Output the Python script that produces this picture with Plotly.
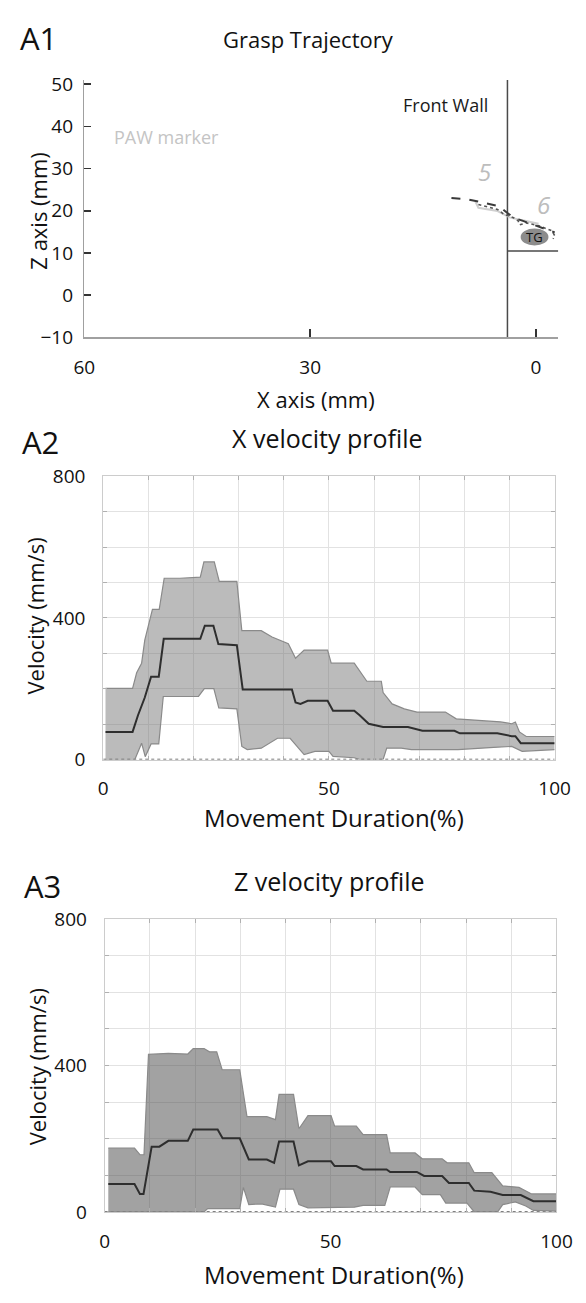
import plotly.graph_objects as go

# ---------------- data ----------------
# A1 grasp trajectory (x mm, z mm)
traj_a_x = [11.24, 8.92, 6.81, 4.90, 3.85, 3.00, 1.74, 0.47, -1.22, -2.48]
traj_a_z = [23.02, 22.65, 21.86, 21.09, 19.53, 18.37, 17.60, 16.84, 15.67, 14.88]
traj_b_x = [7.66, 5.12, 4.27, 3.00, 2.37, 2.17, 1.32, -0.37, -2.07, -2.48, -2.27]
traj_b_z = [21.49, 20.33, 19.16, 18.37, 17.60, 16.67, 17.14, 16.44, 15.28, 14.12, 13.35]
traj_c_x = [8.07, 7.66, 5.12, 3.43, 1.32, -0.33]
traj_c_z = [22.26, 20.70, 19.93, 18.37, 17.60, 16.91]
front_wall_x = 3.8
floor_z = 10.5
target_center = [0.2, 13.8]
target_size = [3.7, 4.0]
a1_xticks = [60, 30, 0]
a1_yticks = [-10, 0, 10, 20, 30, 40, 50]

# A2 X velocity profile
a2_mean_x = [0.5, 6.5, 7.7, 9.2, 10.6, 12.3, 13.4, 21.5, 22.5, 24.4, 25.5, 29.6, 30.9, 41.8, 42.6, 43.7,
             45.3, 49.7, 50.9, 55.6, 56.8, 58.8, 62.0, 67.5, 70.7, 77.8, 79.0, 87.3, 90.5, 91.3, 92.5, 100]
a2_mean = [78, 78, 125, 175, 234, 234, 341, 341, 378, 378, 326, 323, 198, 198, 161, 157,
           166, 166, 138, 138, 125, 101, 92, 92, 81, 81, 74, 74, 66, 66, 46, 46]
a2_up_x = [0.5, 6.5, 7.4, 8.5, 9.2, 10.9, 12.4, 13.5, 17.0, 21.5, 22.3, 24.6, 25.7, 29.6, 30.7, 35.0,
           37.4, 41.0, 42.6, 44.5, 49.7, 50.5, 55.6, 58.4, 61.6, 62.0, 64.0, 66.7, 69.5, 75.8, 78.2,
           83.4, 88.0, 90.5, 91.3, 92.2, 93.7, 100]
a2_up = [201, 201, 245, 272, 337, 424, 424, 512, 512, 515, 558, 558, 503, 503, 364, 364,
         346, 327, 286, 309, 309, 272, 272, 221, 221, 189, 157, 143, 134, 134, 115,
         111, 106, 101, 106, 78, 65, 65]
a2_lo_x = [0.5, 7.0, 8.5, 9.3, 10.6, 12.3, 13.3, 21.1, 22.4, 24.5, 25.6, 29.6, 30.7, 31.9, 35.0, 38.6,
           41.4, 44.5, 46.9, 50.0, 50.9, 55.6, 56.8, 62.0, 62.8, 66.0, 68.3, 78.6, 86.5, 90.5, 92.8, 100]
a2_lo = [0, 0, 46, 8, 44, 44, 178, 178, 200, 200, 146, 143, 37, 28, 32, 60,
         60, 14, 23, 23, 9, 5, 0, 0, 32, 32, 28, 28, 34, 37, 23, 28]

# A3 Z velocity profile
a3_mean_x = [0.8, 6.6, 7.8, 8.6, 10.4, 12.1, 14.1, 18.4, 19.6, 25.0, 26.1, 29.9, 31.9, 35.9, 37.5, 38.6,
             41.8, 43.0, 45.0, 50.1, 50.9, 55.7, 57.2, 62.4, 63.2, 69.1, 70.7, 74.7, 76.2, 80.6, 81.8,
             85.4, 88.1, 92.1, 94.9, 100]
a3_mean = [76, 76, 49, 49, 178, 178, 194, 194, 225, 225, 201, 201, 143, 143, 134, 192,
           192, 127, 138, 138, 125, 125, 116, 116, 109, 109, 98, 98, 79, 79, 58,
           55, 46, 46, 29, 29]
a3_up_x = [0.8, 6.6, 7.8, 8.7, 9.7, 14.1, 18.4, 19.6, 22.0, 23.2, 24.8, 26.0, 29.9, 31.5, 35.9, 37.8,
           38.6, 41.8, 43.0, 45.0, 50.1, 50.9, 55.7, 57.2, 62.4, 63.2, 68.7, 70.3, 74.7, 75.8, 80.6,
           81.8, 85.7, 88.1, 91.7, 94.5, 100]
a3_up = [174, 174, 156, 156, 430, 433, 431, 446, 446, 437, 437, 388, 388, 260, 260, 252,
         321, 321, 227, 263, 263, 234, 234, 211, 211, 161, 161, 145, 145, 134, 134,
         107, 107, 71, 67, 49, 49]
a3_lo_x = [0.8, 22.0, 22.8, 29.9, 30.7, 31.9, 34.7, 37.8, 38.8, 41.8, 43.0, 45.0, 55.3, 57.2, 62.0,
           63.2, 68.7, 70.3, 74.3, 75.5, 80.2, 81.8, 87.0, 88.1, 90.9, 93.2, 94.9, 100]
a3_lo = [0, 0, 9, 9, 67, 20, 22, 13, 62, 62, 20, 11, 13, 18, 18,
         68, 68, 47, 47, 24, 24, 0, 0, 20, 27, 16, 4, 2]

vel_ticks = list(range(0, 801, 100))
vel_labels = ["0", "", "", "", "400", "", "", "", "800"]
dur_ticks = list(range(0, 101, 10))
dur_labels = ["0", "", "", "", "", "50", "", "", "", "", "100"]

# ---------------- layout helpers ----------------
W, H = 586, 1303
FONT = "Open Sans"


def fx(p):
    return p / W


def fy(p):
    return 1 - p / H


fig = go.Figure()

# ---- A1 ----
fig.add_trace(go.Scatter(x=[front_wall_x, front_wall_x], y=[-10, 51], mode="lines",
                         line=dict(color="#4a4a4a", width=1.5), xaxis="x", yaxis="y", hoverinfo="skip"))
fig.add_trace(go.Scatter(x=[front_wall_x, -2.95], y=[floor_z, floor_z], mode="lines",
                         line=dict(color="#4a4a4a", width=1.5), xaxis="x", yaxis="y", hoverinfo="skip"))
fig.add_trace(go.Scatter(x=traj_c_x, y=traj_c_z, mode="lines",
                         line=dict(color="#cfcfcf", width=2), xaxis="x", yaxis="y"))
fig.add_trace(go.Scatter(x=traj_b_x, y=traj_b_z, mode="lines",
                         line=dict(color="#555555", width=1.6, dash="dot"), xaxis="x", yaxis="y"))
fig.add_trace(go.Scatter(x=traj_a_x, y=traj_a_z, mode="lines",
                         line=dict(color="#3a3a3a", width=2, dash="dash"), xaxis="x", yaxis="y"))


# ---- velocity panels ----
def add_profile(xs, ys, xu, yu, xl, yl, xa, ya, fillc):
    fig.add_trace(go.Scatter(x=[0, 100], y=[0, 0], mode="lines",
                             line=dict(color="#555555", width=1.5, dash="dot"), xaxis=xa, yaxis=ya))
    fig.add_trace(go.Scatter(x=xl, y=yl, mode="lines", line=dict(color="#8a8a8a", width=1.2),
                             xaxis=xa, yaxis=ya))
    fig.add_trace(go.Scatter(x=xu, y=yu, mode="lines", line=dict(color="#8a8a8a", width=1.2),
                             fill="tonexty", fillcolor=fillc, xaxis=xa, yaxis=ya))
    fig.add_trace(go.Scatter(x=xs, y=ys, mode="lines", line=dict(color="#2e2e2e", width=2),
                             xaxis=xa, yaxis=ya))


add_profile(a2_mean_x, a2_mean, a2_up_x, a2_up, a2_lo_x, a2_lo, "x2", "y2", "rgba(110,110,110,0.47)")
add_profile(a3_mean_x, a3_mean, a3_up_x, a3_up, a3_lo_x, a3_lo, "x3", "y3", "rgba(80,80,80,0.53)")

tickfont = dict(family=FONT, size=19, color="#111")

vel_x_common = dict(range=[0, 100], tickvals=dur_ticks, ticktext=dur_labels, showgrid=True,
                    gridcolor="#e2e2e2", gridwidth=1, zeroline=False, showline=True, linecolor="#cccccc",
                    linewidth=1, mirror="ticks", ticks="inside", ticklen=4, tickcolor="#b0b0b0",
                    tickfont=tickfont, ticklabelstandoff=12, ticklabeloverflow="allow", fixedrange=True)
vel_y_common = dict(range=[0, 800], tickvals=vel_ticks, ticktext=vel_labels, showgrid=True,
                    gridcolor="#e2e2e2", gridwidth=1, zeroline=False, showline=True, linecolor="#cccccc",
                    linewidth=1, mirror="ticks", ticks="inside", ticklen=4, tickcolor="#b0b0b0",
                    tickfont=tickfont, ticklabelstandoff=13, ticklabeloverflow="allow", fixedrange=True)

fig.update_layout(
    width=W, height=H,
    margin=dict(l=0, r=0, t=0, b=0),
    paper_bgcolor="white", plot_bgcolor="white",
    showlegend=False,
    font=dict(family=FONT, color="#111"),
    xaxis=dict(domain=[fx(76.9), fx(573.7)], range=[60, -2.95], tickvals=a1_xticks,
               ticks="inside", ticklen=8, tickwidth=1.5, tickcolor="#333", showgrid=False,
               zeroline=False, showline=True, linecolor="#a0a0a0", linewidth=1.5,
               tickfont=tickfont, ticklabelstandoff=12, ticklabeloverflow="allow", anchor="y",
               fixedrange=True),
    yaxis=dict(domain=[fy(331), fy(68.3)], range=[-10, 51], tickvals=a1_yticks,
               ticks="inside", ticklen=7, tickwidth=1.5, tickcolor="#333", showgrid=False,
               zeroline=False, showline=True, linecolor="#a0a0a0", linewidth=1.5,
               tickfont=tickfont, ticklabelstandoff=6, ticklabeloverflow="allow", anchor="x",
               fixedrange=True),
    xaxis2=dict(domain=[fx(96.7), fx(569.9)], anchor="y2", **vel_x_common),
    yaxis2=dict(domain=[fy(761.7), fy(472.7)], anchor="x2", **vel_y_common),
    xaxis3=dict(domain=[fx(98.2), fx(571.8)], anchor="y3", **vel_x_common),
    yaxis3=dict(domain=[fy(1223.3), fy(924.3)], anchor="x3", **vel_y_common),
)

# target ellipse
fig.add_shape(type="circle", xref="x", yref="y",
              x0=target_center[0] + target_size[0] / 2, x1=target_center[0] - target_size[0] / 2,
              y0=target_center[1] - target_size[1] / 2, y1=target_center[1] + target_size[1] / 2,
              fillcolor="#8c8c8c", line=dict(width=0), layer="above")


def ann(text, x, y, size, color="#111", angle=0, style="normal"):
    fig.add_annotation(text=text, x=fx(x), y=fy(y), xref="paper", yref="paper",
                       showarrow=False, xanchor="center", yanchor="middle", textangle=angle,
                       font=dict(family=FONT, size=size, color=color, style=style))


ann("A1", 29, 26, 31)
ann("Grasp Trajectory", 312, 27, 22)
ann("Z axis (mm)", 28, 202, 22, angle=-90)
ann("X axis (mm)", 320, 394, 22)
ann("Front Wall", 455, 94, 18, color="#1a1a1a")
ann("PAW marker", 163, 127, 18, color="#c4c4c4")
ann("5", 496, 162, 24, color="#bdbdbd", style="italic")
ann("6", 559, 195, 24, color="#bdbdbd", style="italic")
fig.add_annotation(text="TG", x=target_center[0], y=target_center[1], xref="x", yref="y",
                   showarrow=False, font=dict(family=FONT, size=13, color="#111"))

ann("A2", 31, 438, 31)
ann("X velocity profile", 332, 434, 25)
ann("Velocity (mm/s)", 25, 615, 22, angle=-90)
ann("Movement Duration(%)", 339, 821, 24)

ann("A3", 33, 891, 31)
ann("Z velocity profile", 334, 886, 25)
ann("Velocity (mm/s)", 27, 1075, 22, angle=-90)
ann("Movement Duration(%)", 339, 1287, 24)

fig.write_html("out.html", config={"displayModeBar": False, "staticPlot": True},
               post_script="document.body.style.margin='0';document.body.style.overflow='hidden';")
